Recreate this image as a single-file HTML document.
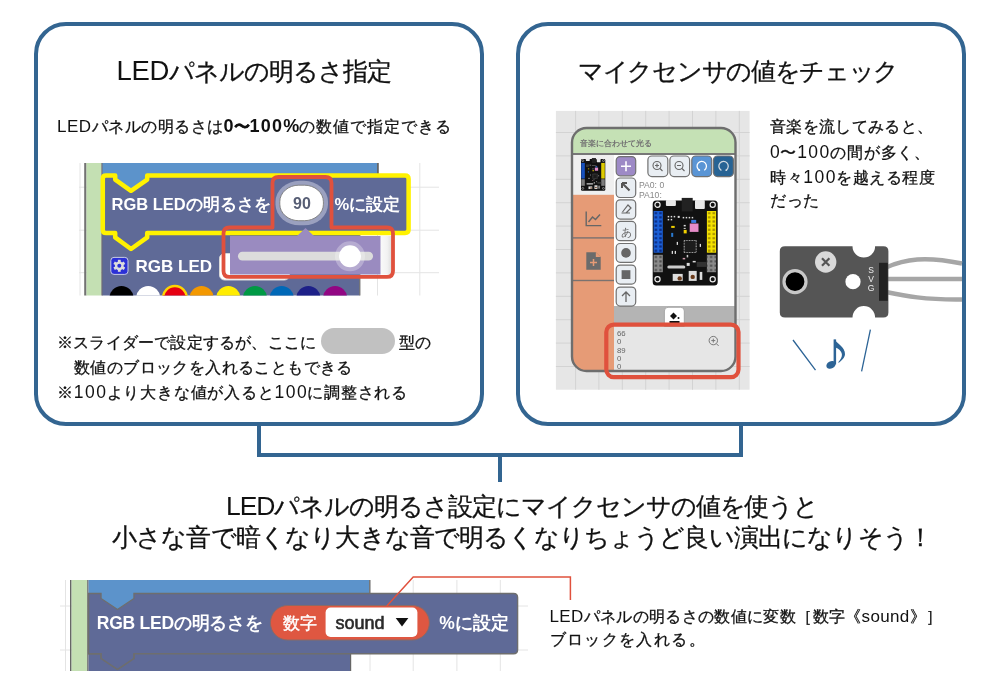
<!DOCTYPE html>
<html lang="ja">
<head>
<meta charset="utf-8">
<style>
*{margin:0;padding:0;box-sizing:border-box;}
html,body{width:1000px;height:683px;overflow:hidden;background:#fff;}
body{position:relative;will-change:transform;font-family:"Liberation Sans",sans-serif;color:#111;}
.abs{position:absolute;}
.box{position:absolute;top:22px;width:450px;height:404px;border:4px solid #336591;border-radius:32px;}
.t{position:absolute;white-space:nowrap;line-height:1;-webkit-text-stroke:0.3px #111;}
.bar{position:absolute;background:#336591;}
.n{font-size:17.5px;letter-spacing:1.5px;margin-right:-1px;-webkit-text-stroke:0;}
.L{font-size:17px;-webkit-text-stroke:0;}
</style>
</head>
<body>
<!-- panels -->
<div class="box" style="left:34px;"></div>
<div class="box" style="left:516px;"></div>
<!-- connectors -->
<div class="bar" style="left:257px;top:424px;width:4px;height:33px;"></div>
<div class="bar" style="left:739px;top:424px;width:4px;height:33px;"></div>
<div class="bar" style="left:257px;top:453px;width:486px;height:4px;"></div>
<div class="bar" style="left:498px;top:455px;width:4px;height:27px;"></div>

<!-- left panel text -->
<div id="t1" class="t" style="left:116.5px;top:57px;font-size:25px;letter-spacing:-1px;"><span style="font-size:27.5px;-webkit-text-stroke:0;letter-spacing:-0.3px;">LED</span>パネルの明るさ指定</div>
<div id="t2" class="t" style="left:57px;top:117px;font-size:16px;"><span style="letter-spacing:0.5px"><span class="L">LED</span>パネルの明るさは</span><b class="n" style="letter-spacing:1px;font-size:18px">0</b><b>〜</b><b class="n" style="letter-spacing:1.2px;font-size:18px">100%</b><span style="letter-spacing:0.9px">の数値で指定できる</span></div>

<div id="t3" class="t" style="left:57px;top:334.5px;font-size:16px;letter-spacing:0.2px;">※スライダーで設定するが、ここに</div>
<div class="abs" style="left:321px;top:328px;width:74px;height:26px;border-radius:13px;background:#c1c1c1;"></div>
<div id="t4" class="t" style="left:399px;top:334.5px;font-size:16px;">型の</div>
<div id="t5" class="t" style="left:74px;top:360px;font-size:16px;letter-spacing:0.4px;">数値のブロックを入れることもできる</div>
<div id="t6" class="t" style="left:57px;top:384px;font-size:16px;letter-spacing:0.8px;">※<span class="n">100</span>より大きな値が入ると<span class="n">100</span>に調整される</div>


<!-- left block image -->
<svg class="abs" style="left:0;top:0;" width="1000" height="683" viewBox="0 0 1000 683">
<defs><clipPath id="clipL"><rect x="79" y="163" width="360" height="132.5"/></clipPath></defs>
<g clip-path="url(#clipL)">
<rect x="79" y="163" width="360" height="133" fill="#fff"/>
<g stroke="#e4e4e4" stroke-width="1">
<line x1="80" y1="163" x2="80" y2="296"/><line x1="377.5" y1="163" x2="377.5" y2="296"/><line x1="419.8" y1="163" x2="419.8" y2="296"/>
<line x1="79" y1="187.2" x2="439" y2="187.2"/><line x1="79" y1="230.2" x2="439" y2="230.2"/><line x1="79" y1="272.7" x2="439" y2="272.7"/>
</g>
<rect x="84.2" y="163" width="2.3" height="133" fill="#737373"/>
<rect x="86.5" y="163" width="14.8" height="133" fill="#c4e0b3"/>
<rect x="101.3" y="163" width="1.7" height="133" fill="#6e6e6e"/>
<!-- top blue block -->
<path d="M102.5 163 H378 V178 H102.5 Z" fill="#5c93cb"/>
<rect x="377" y="163" width="1.8" height="15" fill="#666"/>
<!-- lower slate block -->
<rect x="102.5" y="232" width="257" height="64" fill="#5f6a97"/><rect x="359.2" y="232" width="1.2" height="64" fill="#666"/>
<!-- selected block -->
<path d="M106 175.6 H115.2 V179.6 L131 190.8 L147.2 179.6 V175.6 H405 Q408.6 175.6 408.6 179 V229.6 Q408.6 233 405 233 H147.2 V237.4 L131 249 L115.2 237.4 V233 H106 Q102.8 233 102.8 230 V178.8 Q102.8 175.6 106 175.6 Z" fill="#5f6a97"/>
<path d="M115.2 175.6 V179.6 L131 190.8 L147.2 179.6 V175.6 Z" fill="#5c93cb"/>
<path d="M106 175.6 H115.2 V179.6 L131 190.8 L147.2 179.6 V175.6 H405 Q408.6 175.6 408.6 179 V229.6 Q408.6 233 405 233 H147.2 V237.4 L131 249 L115.2 237.4 V233 H106 Q102.8 233 102.8 230 V178.8 Q102.8 175.6 106 175.6 Z" fill="none" stroke="#fff200" stroke-width="4.5" stroke-linejoin="round"/>
<text x="111.5" y="209.5" fill="#fff" font-family="'Liberation Sans', sans-serif" font-weight="bold" font-size="16.5">RGB LEDの明るさを</text>
<rect x="275.5" y="180.8" width="52.5" height="44.5" rx="24" ry="21" fill="#9aa0bf"/>
<rect x="279.8" y="185.2" width="43.6" height="35.5" rx="19" ry="16.5" fill="#fff" stroke="#7a7a7a" stroke-width="0.9"/>
<text x="302" y="209" fill="#575e75" text-anchor="middle" font-family="'Liberation Sans', sans-serif" font-weight="bold" font-size="16">90</text>
<text x="334.5" y="209.5" fill="#fff" font-family="'Liberation Sans', sans-serif" font-weight="bold" font-size="16.5">%に設定</text>
<!-- gear -->
<rect x="110.8" y="257.4" width="17.2" height="17" rx="3.2" fill="#2b30d6" stroke="#c8cbe6" stroke-width="1"/>
<g transform="translate(119.3 265.8)" fill="#dcdcdc">
<circle r="4.4"/>
<g><rect x="-1.4" y="-6" width="2.8" height="12"/><rect x="-1.4" y="-6" width="2.8" height="12" transform="rotate(60)"/><rect x="-1.4" y="-6" width="2.8" height="12" transform="rotate(120)"/></g>
<circle r="2" fill="#2b30d6"/>
</g>
<text x="135.6" y="272" fill="#fff" font-family="'Liberation Sans', sans-serif" font-weight="bold" font-size="17">RGB LED</text>
<!-- white dropdown field -->
<rect x="219.5" y="253.5" width="70" height="26.5" rx="5" fill="#fff" stroke="#d8d8d8" stroke-width="1"/>
<!-- color circles -->
<g>
<circle cx="121.5" cy="298" r="12" fill="#000"/>
<circle cx="148.2" cy="298" r="12" fill="#fff"/>
<circle cx="174.9" cy="298" r="12" fill="#e60012" stroke="#ffd400" stroke-width="2.5"/>
<circle cx="201.6" cy="298" r="12" fill="#f39800"/>
<circle cx="228.3" cy="298" r="12" fill="#ffec00"/>
<circle cx="255" cy="298" r="12" fill="#009944"/>
<circle cx="281.7" cy="298" r="12" fill="#0068b7"/>
<circle cx="308.4" cy="298" r="12" fill="#1d2088"/>
<circle cx="335.1" cy="298" r="12" fill="#920783"/>
</g>
<!-- dropdown -->
<defs><linearGradient id="shd" x1="0" x2="1"><stop offset="0" stop-color="#fafafa"/><stop offset="0.6" stop-color="#f2f2f2"/><stop offset="1" stop-color="#dcdcdc"/></linearGradient></defs><rect x="380" y="236" width="12" height="38.5" fill="url(#shd)"/>
<rect x="230" y="236" width="150.5" height="38.5" fill="#9a8bc0"/>
<path d="M297 236 L305.5 228 L314 236 Z" fill="#9a8bc0"/>
<rect x="238" y="251.8" width="135" height="8.8" rx="4.4" fill="#dcdcdc"/>
<circle cx="350" cy="256.3" r="15" fill="#fff" fill-opacity="0.28"/>
<circle cx="350" cy="256.3" r="11" fill="#fff"/>
<!-- red highlight -->
<path d="M278.5 177 H325.5 Q331.5 177 331.5 183 V227.5 H387 Q393 227.5 393 233.5 V270.9 Q393 276.9 387 276.9 H229.5 Q223.5 276.9 223.5 270.9 V233.5 Q223.5 227.5 229.5 227.5 H272.5 V183 Q272.5 177 278.5 177 Z" fill="none" stroke="#e0513d" stroke-width="3.8" stroke-linejoin="round"/>
</g>
</svg>


<!-- right device image -->
<svg class="abs" style="left:0;top:0;" width="1000" height="683" viewBox="0 0 1000 683">
<defs>
<pattern id="pinB" x="0.9" y="11.1" width="4.6" height="4.17" patternUnits="userSpaceOnUse"><rect x="1.1" y="1.1" width="2.4" height="2.1" fill="#0a2a80"/></pattern>
<pattern id="pinY" x="54.2" y="11.1" width="4.6" height="4.17" patternUnits="userSpaceOnUse"><rect x="1.1" y="1.1" width="2.4" height="2.1" fill="#a08a00"/></pattern>
<pattern id="pinG" x="0.9" y="54.9" width="4.6" height="4.35" patternUnits="userSpaceOnUse"><rect x="1.2" y="1.2" width="2.2" height="2" fill="#4a4a4a"/></pattern>
<clipPath id="clipR"><rect x="572" y="128" width="163.5" height="243" rx="14.5"/></clipPath>
</defs>
<rect x="555.9" y="110.9" width="193.7" height="278.8" fill="#e6e6e6"/>
<g stroke="#d3d3d3" stroke-width="1">
<line x1="575.6" y1="110.9" x2="575.6" y2="389.7"/><line x1="598.9" y1="110.9" x2="598.9" y2="389.7"/><line x1="622.3" y1="110.9" x2="622.3" y2="389.7"/><line x1="645.7" y1="110.9" x2="645.7" y2="389.7"/><line x1="669.1" y1="110.9" x2="669.1" y2="389.7"/><line x1="692.5" y1="110.9" x2="692.5" y2="389.7"/><line x1="715.9" y1="110.9" x2="715.9" y2="389.7"/><line x1="739.3" y1="110.9" x2="739.3" y2="389.7"/>
<line x1="555.9" y1="132.5" x2="749.6" y2="132.5"/><line x1="555.9" y1="155.9" x2="749.6" y2="155.9"/><line x1="555.9" y1="179.3" x2="749.6" y2="179.3"/><line x1="555.9" y1="202.7" x2="749.6" y2="202.7"/><line x1="555.9" y1="226.1" x2="749.6" y2="226.1"/><line x1="555.9" y1="249.5" x2="749.6" y2="249.5"/><line x1="555.9" y1="272.9" x2="749.6" y2="272.9"/><line x1="555.9" y1="296.3" x2="749.6" y2="296.3"/><line x1="555.9" y1="319.7" x2="749.6" y2="319.7"/><line x1="555.9" y1="343.1" x2="749.6" y2="343.1"/><line x1="555.9" y1="366.5" x2="749.6" y2="366.5"/>
</g>
<g clip-path="url(#clipR)">
<rect x="572" y="128" width="164" height="243" fill="#fff"/>
<rect x="572" y="128" width="164" height="25.5" fill="#c5e1b5"/>
<rect x="572" y="153" width="164" height="2" fill="#777"/>
<rect x="572" y="155" width="42" height="40" fill="#efefef"/>
<rect x="572" y="194.8" width="42" height="177" fill="#e69b76"/>
<rect x="572" y="237.2" width="42" height="1.4" fill="#7a7270"/>
<rect x="572" y="279.8" width="42" height="1.4" fill="#7a7270"/>
<rect x="614" y="306" width="122" height="20.5" fill="#b4b4b4"/>
<rect x="614" y="326.5" width="122" height="45" fill="#e6e6e6"/>
</g>
<rect x="572" y="128" width="163.5" height="243" rx="14.5" fill="none" stroke="#6e6e6e" stroke-width="2.4"/>
<text x="579.5" y="146.4" fill="#737373" font-family="'Liberation Sans', sans-serif" font-weight="bold" font-size="8.2">音楽に合わせて光る</text>
<g transform="translate(581 158.8) scale(0.3738 0.3731)">
<rect x="0" y="0.5" width="65" height="85" rx="3.5" fill="#111"/>
<rect x="29" y="-2" width="11" height="13.5" fill="#222"/>
<rect x="13.2" y="0" width="10" height="6" rx="1" fill="#e8e8e8"/>
<rect x="42.3" y="0" width="9.8" height="9" rx="1" fill="#e8e8e8"/>
<circle cx="4.8" cy="4.8" r="2.6" fill="none" stroke="#eee" stroke-width="1.2"/>
<circle cx="60" cy="4.8" r="2.6" fill="none" stroke="#eee" stroke-width="1.2"/>
<circle cx="4.8" cy="79.3" r="2.6" fill="none" stroke="#eee" stroke-width="1.2"/>
<circle cx="60" cy="79.3" r="2.6" fill="none" stroke="#eee" stroke-width="1.2"/>
<rect x="0.9" y="11.1" width="9.2" height="41.7" fill="#1b5fd6"/>
<rect x="54.2" y="11.1" width="9.2" height="41.7" fill="#f4e200"/>
<rect x="0.9" y="54.9" width="9.2" height="17.4" fill="#8a8a8a"/>
<rect x="54.2" y="54.9" width="9.2" height="17.4" fill="#8a8a8a"/>



<rect x="0.9" y="11.1" width="9.2" height="41.7" fill="url(#pinB)"/>
<rect x="54.2" y="11.1" width="9.2" height="41.7" fill="url(#pinY)"/>
<rect x="0.9" y="54.9" width="9.2" height="17.4" fill="url(#pinG)"/><rect x="54.2" y="54.9" width="9.2" height="17.4" fill="url(#pinG)" transform="translate(0 0)"/>
<rect x="31.5" y="40.6" width="12" height="12" fill="#1c1c1c" stroke="#aaa" stroke-width="1.1" stroke-dasharray="0.9 0.7"/><rect x="44" y="62" width="10" height="5" fill="#333"/><rect x="30" y="58" width="2.5" height="1.5" fill="#c9a"/><rect x="34" y="55" width="1.5" height="2.5" fill="#ccc"/>
<rect x="37" y="23.6" width="8.8" height="8.4" fill="#e58cc8"/>
<rect x="38.5" y="20" width="5" height="3" fill="#3a7be0"/>
<rect x="18.5" y="26" width="3.5" height="2" fill="#f0d000"/>
<rect x="31" y="30" width="3" height="3.5" fill="#f0d000"/>
<rect x="18.5" y="33" width="2" height="4" fill="#2a7ad0"/>
<rect x="14.6" y="65.6" width="18" height="3" rx="1.5" fill="#ccc"/>
<rect x="20" y="74" width="10" height="7" fill="#ddd"/><circle cx="27" cy="78.5" r="2.2" fill="#6b3b1b"/>
<rect x="36" y="71" width="8" height="10" fill="#ddd"/><circle cx="40" cy="77" r="2.2" fill="#6b3b1b"/>
<rect x="47" y="72" width="2.6" height="8" fill="#ddd"/>
<g fill="#ddd"><rect x="15" y="16" width="1.5" height="1.5"/><rect x="18" y="16" width="1.5" height="1.5"/><rect x="21" y="16" width="1.5" height="1.5"/><rect x="15" y="19" width="1.5" height="1.5"/><rect x="18" y="19" width="1.5" height="1.5"/><rect x="25" y="16" width="2" height="2"/><rect x="30" y="17" width="1.5" height="1.5"/><rect x="33" y="17" width="1.5" height="1.5"/><rect x="36" y="17" width="1.5" height="1.5"/><rect x="39" y="17" width="1.5" height="1.5"/><rect x="31" y="25" width="2" height="1.5"/><rect x="31" y="28" width="2" height="1"/><rect x="24" y="42" width="1.3" height="3"/><rect x="47" y="44" width="1.3" height="3"/><rect x="19" y="51" width="1.3" height="3"/><rect x="22" y="51" width="1.3" height="3"/><rect x="40" y="61" width="3" height="1.5"/><rect x="34" y="63" width="3" height="3"/></g>
</g>
<g transform="translate(652.7 199.9)">
<rect x="0" y="0.5" width="65" height="85" rx="3.5" fill="#111"/>
<rect x="29" y="-2" width="11" height="13.5" fill="#222"/>
<rect x="13.2" y="0" width="10" height="6" rx="1" fill="#e8e8e8"/>
<rect x="42.3" y="0" width="9.8" height="9" rx="1" fill="#e8e8e8"/>
<circle cx="4.8" cy="4.8" r="2.6" fill="none" stroke="#eee" stroke-width="1.2"/>
<circle cx="60" cy="4.8" r="2.6" fill="none" stroke="#eee" stroke-width="1.2"/>
<circle cx="4.8" cy="79.3" r="2.6" fill="none" stroke="#eee" stroke-width="1.2"/>
<circle cx="60" cy="79.3" r="2.6" fill="none" stroke="#eee" stroke-width="1.2"/>
<rect x="0.9" y="11.1" width="9.2" height="41.7" fill="#1b5fd6"/>
<rect x="54.2" y="11.1" width="9.2" height="41.7" fill="#f4e200"/>
<rect x="0.9" y="54.9" width="9.2" height="17.4" fill="#8a8a8a"/>
<rect x="54.2" y="54.9" width="9.2" height="17.4" fill="#8a8a8a"/>



<rect x="0.9" y="11.1" width="9.2" height="41.7" fill="url(#pinB)"/>
<rect x="54.2" y="11.1" width="9.2" height="41.7" fill="url(#pinY)"/>
<rect x="0.9" y="54.9" width="9.2" height="17.4" fill="url(#pinG)"/><rect x="54.2" y="54.9" width="9.2" height="17.4" fill="url(#pinG)" transform="translate(0 0)"/>
<rect x="31.5" y="40.6" width="12" height="12" fill="#1c1c1c" stroke="#aaa" stroke-width="1.1" stroke-dasharray="0.9 0.7"/><rect x="44" y="62" width="10" height="5" fill="#333"/><rect x="30" y="58" width="2.5" height="1.5" fill="#c9a"/><rect x="34" y="55" width="1.5" height="2.5" fill="#ccc"/>
<rect x="37" y="23.6" width="8.8" height="8.4" fill="#e58cc8"/>
<rect x="38.5" y="20" width="5" height="3" fill="#3a7be0"/>
<rect x="18.5" y="26" width="3.5" height="2" fill="#f0d000"/>
<rect x="31" y="30" width="3" height="3.5" fill="#f0d000"/>
<rect x="18.5" y="33" width="2" height="4" fill="#2a7ad0"/>
<rect x="14.6" y="65.6" width="18" height="3" rx="1.5" fill="#ccc"/>
<rect x="20" y="74" width="10" height="7" fill="#ddd"/><circle cx="27" cy="78.5" r="2.2" fill="#6b3b1b"/>
<rect x="36" y="71" width="8" height="10" fill="#ddd"/><circle cx="40" cy="77" r="2.2" fill="#6b3b1b"/>
<rect x="47" y="72" width="2.6" height="8" fill="#ddd"/>
<g fill="#ddd"><rect x="15" y="16" width="1.5" height="1.5"/><rect x="18" y="16" width="1.5" height="1.5"/><rect x="21" y="16" width="1.5" height="1.5"/><rect x="15" y="19" width="1.5" height="1.5"/><rect x="18" y="19" width="1.5" height="1.5"/><rect x="25" y="16" width="2" height="2"/><rect x="30" y="17" width="1.5" height="1.5"/><rect x="33" y="17" width="1.5" height="1.5"/><rect x="36" y="17" width="1.5" height="1.5"/><rect x="39" y="17" width="1.5" height="1.5"/><rect x="31" y="25" width="2" height="1.5"/><rect x="31" y="28" width="2" height="1"/><rect x="24" y="42" width="1.3" height="3"/><rect x="47" y="44" width="1.3" height="3"/><rect x="19" y="51" width="1.3" height="3"/><rect x="22" y="51" width="1.3" height="3"/><rect x="40" y="61" width="3" height="1.5"/><rect x="34" y="63" width="3" height="3"/></g>
</g>
<!-- chart icon -->
<path d="M586.2 211.5 V225.6 H601.3" fill="none" stroke="#666" stroke-width="1.4"/>
<path d="M588.5 222 L592.5 217 L595.5 219.5 L600 214.5" fill="none" stroke="#666" stroke-width="1.4"/>
<!-- file icon -->
<path d="M586.3 252.2 H595.8 L600.7 257 V269.8 H586.3 Z" fill="#6b6b6b"/>
<path d="M595.8 252.2 V257 H600.7 Z" fill="#e69b76"/>
<path d="M593.5 259 V266 M590 262.5 H597" stroke="#e69b76" stroke-width="1.5"/>
<!-- tool buttons -->
<g stroke="#717171" stroke-width="1.2">
<rect x="616.2" y="156.6" width="19.5" height="19.2" rx="4" fill="#9d8ac6"/>
<rect x="616.2" y="178" width="19.5" height="19.5" rx="4" fill="#e9eef3"/>
<rect x="616.2" y="199.8" width="19.5" height="19.3" rx="4" fill="#e9eef3"/>
<rect x="616.2" y="221.4" width="19.5" height="19.3" rx="4" fill="#e9eef3"/>
<rect x="616.2" y="243.5" width="19.5" height="18.8" rx="4" fill="#e9eef3"/>
<rect x="616.2" y="265.1" width="19.5" height="19" rx="4" fill="#e9eef3"/>
<rect x="616.2" y="287.1" width="19.5" height="19" rx="4" fill="#e9eef3"/>
<rect x="647.9" y="156" width="19.9" height="20.6" rx="4" fill="#e9eef3"/>
<rect x="669.9" y="156" width="19.7" height="20.6" rx="4" fill="#e9eef3"/>
<rect x="691.8" y="156" width="19.9" height="20.6" rx="4" fill="#5a95d5"/>
<rect x="713.5" y="156" width="19.9" height="20.6" rx="4" fill="#276394"/>
</g>
<path d="M626 161.2 V171.2 M621 166.2 H631" stroke="#fff" stroke-width="1.6"/>
<path d="M622 183 L629.5 190.5 M622 183 H627 M622 183 V188" stroke="#555" stroke-width="2" fill="none"/>
<path d="M621.5 213 H630 M622.5 212 L628 205 L631 208 L626 213" stroke="#666" stroke-width="1.2" fill="none"/>
<text x="626" y="235.5" text-anchor="middle" fill="#666" font-family="'Liberation Sans', sans-serif" font-size="11">あ</text>
<circle cx="626" cy="252.9" r="4.8" fill="#666"/>
<rect x="621.6" y="270.2" width="8.8" height="8.8" fill="#666"/>
<path d="M626 302 V292 M622 296 L626 292 L630 296" stroke="#666" stroke-width="1.3" fill="none"/>
<g stroke="#666" stroke-width="1.1" fill="none">
<circle cx="657" cy="165.5" r="4"/><path d="M660 168.5 L662.5 171 M655 165.5 H659 M657 163.5 V167.5"/>
<circle cx="679" cy="165.5" r="4"/><path d="M682 168.5 L684.5 171 M677 165.5 H681"/>
</g>
<path d="M699.2 170.1 A4.7 4.7 0 1 1 704.6 169.9" stroke="#fff" stroke-width="1.3" fill="none" stroke-linecap="round"/><circle cx="699.3" cy="170.2" r="0.9" fill="#fff"/>
<path d="M721 170.1 A4.7 4.7 0 1 1 726.4 169.9" stroke="#cfd8e0" stroke-width="1.3" fill="none" stroke-linecap="round"/><circle cx="726.3" cy="170.2" r="0.9" fill="#cfd8e0"/>
<text x="639" y="188.3" fill="#888" font-family="'Liberation Sans', sans-serif" font-size="8.6">PA0: 0</text>
<text x="639" y="197.8" fill="#888" font-family="'Liberation Sans', sans-serif" font-size="8.6">PA10:</text>
<!-- bucket tab -->
<path d="M664.4 326.5 V311 Q664.4 307.3 668 307.3 H680.7 Q684.3 307.3 684.3 311 V326.5 Z" fill="#fff" stroke="#999" stroke-width="0.8"/>
<path d="M670 316 L673.5 312.5 L677 316 L673.5 319.5 Z" fill="#111"/><rect x="669.5" y="321" width="10" height="2.2" fill="#111"/>
<circle cx="678.5" cy="318" r="1" fill="#111"/>
<g fill="#666" font-family="'Liberation Sans', sans-serif" font-size="7.8">
<text x="617" y="336">66</text><text x="617" y="344.3">0</text><text x="617" y="352.6">89</text><text x="617" y="360.9">0</text><text x="617" y="369.2">0</text>
</g>
<g stroke="#777" stroke-width="1" fill="none"><circle cx="713.3" cy="340.6" r="4.2"/><path d="M716.3 343.6 L718.6 345.9 M711.3 340.6 H715.3 M713.3 338.6 V342.6"/></g>
<rect x="606.3" y="324.6" width="132.2" height="52.5" rx="7.5" fill="none" stroke="#e0513d" stroke-width="4.2"/>
</svg>


<!-- sensor -->
<svg class="abs" style="left:0;top:0;" width="1000" height="683" viewBox="0 0 1000 683">
<g fill="none" stroke="#a6a6a6" stroke-width="4.4">
<path d="M886 267.5 C905 259 925 256 962 263.5"/>
<path d="M886 279 H962"/>
<path d="M886 292 C905 296 925 300 962 299.5"/>
</g>
<path d="M785 246.3 H852.5 A11.3 11.3 0 0 0 875.1 246.3 H883.4 Q888.4 246.3 888.4 251.3 V312.4 Q888.4 317.4 883.4 317.4 H875.1 A11.3 11.3 0 0 0 852.5 317.4 H785 Q779.8 317.4 779.8 312.4 V251.3 Q779.8 246.3 785 246.3 Z" fill="#555"/>
<rect x="879" y="262.8" width="8.8" height="38" fill="#222"/>
<circle cx="795" cy="281.7" r="11" fill="#000" stroke="#c8c8c8" stroke-width="3.2"/>
<circle cx="825.7" cy="262" r="10.7" fill="#d9d9d9"/>
<path d="M822 258.3 L829.4 265.7 M829.4 258.3 L822 265.7" stroke="#555" stroke-width="2.2"/>
<circle cx="853" cy="281.7" r="7.6" fill="#fff"/>
<g fill="#eee" font-family="'Liberation Sans', sans-serif" font-size="8.5" text-anchor="middle">
<text x="871" y="273">S</text><text x="871" y="282">V</text><text x="871" y="291">G</text>
</g>
<path d="M793 340 L815.5 370.2 M870.4 329.7 L861.6 371.3" stroke="#2d6496" stroke-width="1.3"/>
<g fill="#2d6496"><rect x="833.6" y="339.4" width="2.5" height="25"/>
<ellipse cx="831" cy="364.9" rx="4.9" ry="3.6" transform="rotate(-28 831 364.9)"/>
<path d="M834.5 339.4 C837 343.5 845.3 347 845 354.2 C844.8 357.6 841.5 360.6 838.8 362.8 L838.2 362.2 C840.6 359.4 842.2 356.8 841.9 354.2 C841.5 350.8 838.5 348.8 835.5 347.5 Z"/></g>
</svg>

<!-- right panel text -->
<div id="t7" class="t" style="left:578px;top:58.5px;font-size:25px;letter-spacing:-1.3px;">マイクセンサの値をチェック</div>
<div id="t8a" class="t" style="left:770px;top:119px;font-size:16px;letter-spacing:0.35px;">音楽を流してみると、</div>
<div id="t8b" class="t" style="left:770px;top:143.5px;font-size:16px;letter-spacing:0.9px;"><span class="n">0</span>〜<span class="n">100</span>の間が多く、</div>
<div id="t8c" class="t" style="left:770px;top:168.5px;font-size:16px;letter-spacing:0.6px;">時々<span class="n">100</span>を越える程度</div>
<div id="t8d" class="t" style="left:770px;top:193px;font-size:16px;letter-spacing:0.5px;">だった</div>

<!-- bottom text -->
<div id="t9" class="t" style="left:226px;top:492.5px;font-size:25px;letter-spacing:-1.05px;"><span style="font-size:26.5px;-webkit-text-stroke:0;">LED</span>パネルの明るさ設定にマイクセンサの値を使うと</div>
<div id="t10" class="t" style="left:112px;top:524.5px;font-size:25px;letter-spacing:-0.85px;">小さな音で暗くなり大きな音で明るくなりちょうど良い演出になりそう！</div>


<!-- bottom block image -->
<svg class="abs" style="left:0;top:0;" width="1000" height="683" viewBox="0 0 1000 683">
<defs><clipPath id="clipB"><rect x="60" y="580" width="468" height="91"/></clipPath></defs>
<g clip-path="url(#clipB)">
<g stroke="#e4e4e4" stroke-width="1">
<line x1="65.5" y1="580" x2="65.5" y2="671"/>
<line x1="370" y1="580" x2="370" y2="671"/><line x1="413.2" y1="580" x2="413.2" y2="671"/><line x1="456.9" y1="580" x2="456.9" y2="671"/><line x1="500.3" y1="580" x2="500.3" y2="671"/>
<line x1="60" y1="606" x2="528" y2="606"/><line x1="60" y1="650" x2="528" y2="650"/>
</g>
<rect x="70" y="580" width="1.6" height="91" fill="#666"/>
<rect x="71.6" y="580" width="15.6" height="91" fill="#c4e0b3"/>
<rect x="87.2" y="580" width="1.4" height="91" fill="#666"/>
<rect x="88.6" y="580" width="281.4" height="14" fill="#5c93cb"/>
<rect x="369" y="580" width="1.5" height="13" fill="#777"/>
<rect x="88.6" y="652" width="262.2" height="19" fill="#5f6a97"/>
<rect x="350" y="652" width="1.2" height="19" fill="#666"/>
<path d="M100 593 V598.5 L117.5 610 L135 598.5 V593 Z" fill="#5c93cb"/>
<path d="M88.6 593.5 H101 V598.5 L117.5 609.5 L134 598.5 V593.5 H513.5 Q517.6 593.5 517.6 597.5 V649.7 Q517.6 653.7 513.5 653.7 H134 V658.5 L117.5 669.5 L101 658.5 V653.7 H88.6 Z" fill="#5f6a97" stroke="#6e6e6e" stroke-width="1.4"/>
<path d="M88.6 653.7 H101 V658.5 L117.5 669.5 L134 658.5 V653.7" fill="none" stroke="#6e6e6e" stroke-width="1.4"/>
<text x="96.8" y="628.8" fill="#fff" font-family="'Liberation Sans', sans-serif" font-weight="bold" font-size="17.5" letter-spacing="-0.25">RGB LEDの明るさを</text>
<rect x="270.4" y="605.5" width="159" height="34.5" rx="17.25" fill="#df5741" stroke="#8a6a66" stroke-width="1"/>
<text x="283" y="629" fill="#fff" font-family="'Liberation Sans', sans-serif" font-size="17" stroke="#fff" stroke-width="0.4">数字</text>
<rect x="325.6" y="607.6" width="91.8" height="29.4" rx="5" fill="#fff"/>
<text x="335.5" y="628.8" fill="#2a2a2a" font-family="'Liberation Sans', sans-serif" font-size="18" stroke="#2a2a2a" stroke-width="0.6">sound</text>
<path d="M395.7 618 H408.4 L402 626.4 Z" fill="#111"/>
<text x="439.3" y="629.3" fill="#fff" font-family="'Liberation Sans', sans-serif" font-weight="bold" font-size="17.5">%に設定</text>
</g>
<path d="M386.8 606 L413.2 577 H570.4 V600" fill="none" stroke="#e0513d" stroke-width="1.5"/>
</svg>

<div id="t11" class="t" style="left:549.5px;top:608px;font-size:16px;letter-spacing:0.35px;"><span class="L">LED</span>パネルの明るさの数値に変数［数字《<span class="L">sound</span>》］</div>
<div id="t12" class="t" style="left:549.5px;top:632px;font-size:16px;letter-spacing:1.4px;">ブロックを入れる。</div>

</body>
</html>
